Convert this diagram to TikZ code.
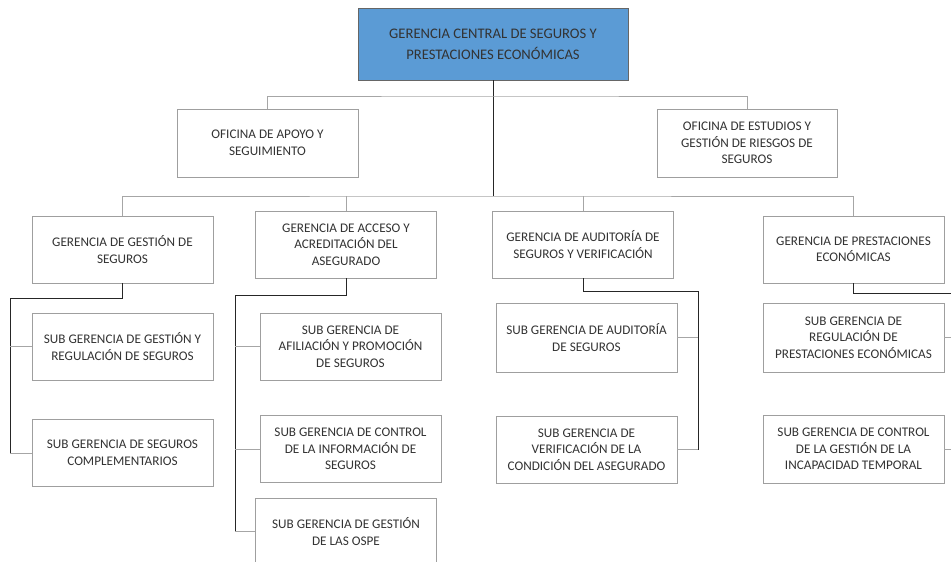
\documentclass[tikz,border=0pt]{standalone}
\usepackage{fontspec}
\setmainfont{Carlito}
\definecolor{jefeazul}{HTML}{5B9BD5}
\begin{document}
\begin{tikzpicture}[x=1pt,y=-1pt,
  every node/.style={font=\fontsize{13.2}{16.5}\selectfont,text=black!80,align=center},
  box/.style={draw=gray!75,line width=0.9pt,fill=white,minimum width=181pt,minimum height=67pt,inner sep=2pt},
  topbox/.style={box,fill=jefeazul,draw=gray!80!black,minimum width=270pt,minimum height=72pt,font=\fontsize{14.6}{21}\selectfont},
  trunk/.style={draw=black!85,line width=1pt},
  branch/.style={draw=gray!70,line width=1pt}]
\useasboundingbox (0,0) rectangle (951,562);
\clip (0,0) rectangle (951,562);
\node[topbox] (central) at (493,44) {GERENCIA CENTRAL DE SEGUROS Y\\PRESTACIONES ECONÓMICAS};
\node[box,minimum height=68pt] (apoyo) at (267.5,143) {OFICINA DE APOYO Y\\SEGUIMIENTO};
\node[box,minimum height=68pt,minimum width=180pt] (estudios) at (747,143) {OFICINA DE ESTUDIOS Y\\GESTIÓN DE RIESGOS DE\\SEGUROS};
\node[box] (gestion) at (122.5,249.5) {GERENCIA DE GESTIÓN DE\\SEGUROS};
\node[box] (acceso) at (346,244.5) {GERENCIA DE ACCESO Y\\ACREDITACIÓN DEL\\ASEGURADO};
\node[box] (auditoria) at (583,244.5) {GERENCIA DE AUDITORÍA DE\\SEGUROS Y VERIFICACIÓN};
\node[box] (prestac) at (853.5,249.5) {GERENCIA DE PRESTACIONES\\ECONÓMICAS};
\node[box] (gest1) at (122.5,346.5) {SUB GERENCIA DE GESTIÓN Y\\REGULACIÓN DE SEGUROS};
\node[box] (gest2) at (122.5,453) {SUB GERENCIA DE SEGUROS\\COMPLEMENTARIOS};
\node[box] (acc1) at (350.5,346.5) {SUB GERENCIA DE\\AFILIACIÓN Y PROMOCIÓN\\DE SEGUROS};
\node[box] (acc2) at (350.5,449) {SUB GERENCIA DE CONTROL\\DE LA INFORMACIÓN DE\\SEGUROS};
\node[box] (acc3) at (346,531.5) {SUB GERENCIA DE GESTIÓN\\DE LAS OSPE};
\node[box,minimum height=69pt] (aud1) at (586.5,337.5) {SUB GERENCIA DE AUDITORÍA\\DE SEGUROS};
\node[box] (aud2) at (586.5,449.5) {SUB GERENCIA DE\\VERIFICACIÓN DE LA\\CONDICIÓN DEL ASEGURADO};
\node[box,minimum height=69pt] (pre1) at (853.5,337.5) {SUB GERENCIA DE\\REGULACIÓN DE\\PRESTACIONES ECONÓMICAS};
\node[box,minimum height=68pt] (pre2) at (853.5,449) {SUB GERENCIA DE CONTROL\\DE LA GESTIÓN DE LA\\INCAPACIDAD TEMPORAL};
\coordinate (ofic) at (493,96);
\coordinate (gcia) at (493,196);
\coordinate (gestcol) at (10,298);
\coordinate (acccol) at (235,295);
\coordinate (audcol) at (698,291);
\coordinate (precol) at (962,293);
\draw[trunk] (central) -- (gcia);
\draw[branch] (apoyo.north) |- (ofic) -| (estudios.north);
\draw[branch] (gestion.north) |- (gcia) -| (prestac.north);
\draw[branch] (acceso.north) -- (acceso.north |- gcia);
\draw[branch] (auditoria.north) -- (auditoria.north |- gcia);
\draw[trunk] (gestion.south) |- (gestcol) -- (gestcol |- gest2.west);
\draw[branch] (gestcol |- gest1.west) -- (gest1.west);
\draw[branch] (gestcol |- gest2.west) -- (gest2.west);
\draw[trunk] (acceso.south) |- (acccol) -- (acccol |- acc3.west);
\foreach \s in {acc1,acc2,acc3} \draw[branch] (acccol |- \s.west) -- (\s.west);
\draw[trunk] (auditoria.south) |- (audcol) -- (audcol |- aud2.east);
\foreach \s in {aud1,aud2} \draw[branch] (audcol |- \s.east) -- (\s.east);
\draw[trunk] (prestac.south) |- (precol) -- (precol |- pre2.east);
\foreach \s in {pre1,pre2} \draw[branch] (precol |- \s.east) -- (\s.east);
\end{tikzpicture}
\end{document}
